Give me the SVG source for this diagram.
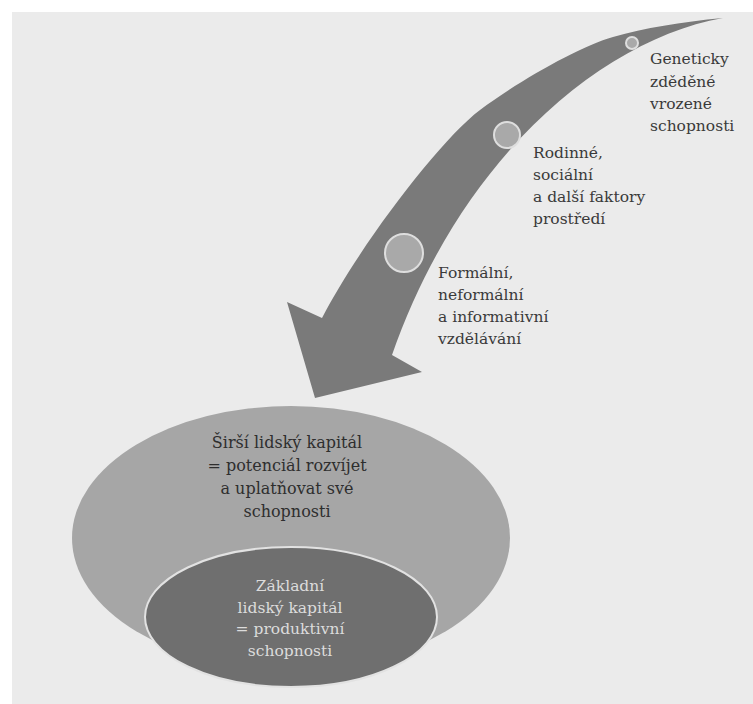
<svg xmlns="http://www.w3.org/2000/svg" width="753" height="704" viewBox="0 0 753 704">
<style>
text{font-family:'DejaVu Serif','Liberation Serif',serif}
.lbl{font-size:15.5px;fill:#3a3a3a}
.out{font-size:16px;fill:#2e2e2e;text-anchor:middle}
.in{font-size:15.5px;fill:#dcdcdc;text-anchor:middle}
.dot{fill:#a9a9a9;stroke:#dedede;stroke-width:2}
</style>
<rect width="753" height="704" fill="#ffffff"/>
<rect x="12" y="12" width="741" height="692" fill="#ebebeb"/>
<g id="connectors">
<path id="arrow" d="M723,18 C600,40 460,160 392,355 L422,372 L315,398 L287,302 L322,318 C360,245 440,140 480,110 C520,80 581,46 613,37 C645,28 680,22 723,18 Z" fill="#7a7a7a"/>
</g>
<g id="dot-genetic"><circle class="dot" cx="632" cy="43" r="6"/></g>
<g id="dot-family"><circle class="dot" cx="507" cy="135" r="13"/></g>
<g id="dot-education"><circle class="dot" cx="404" cy="253" r="19"/></g>
<g id="label-genetic">
<text class="lbl" x="650" y="64">Geneticky</text>
<text class="lbl" x="650" y="87">zděděné</text>
<text class="lbl" x="650" y="109">vrozené</text>
<text class="lbl" x="650" y="131">schopnosti</text>
</g>
<g id="label-family">
<text class="lbl" x="533" y="158">Rodinné,</text>
<text class="lbl" x="533" y="180">sociální</text>
<text class="lbl" x="533" y="202">a další faktory</text>
<text class="lbl" x="533" y="224">prostředí</text>
</g>
<g id="label-education">
<text class="lbl" x="438" y="278">Formální,</text>
<text class="lbl" x="438" y="300">neformální</text>
<text class="lbl" x="438" y="322">a informativní</text>
<text class="lbl" x="438" y="344">vzdělávání</text>
</g>
<g id="broad-capital">
<ellipse cx="291" cy="538" rx="219" ry="132" fill="#a6a6a6"/>
<text class="out" x="287" y="448">Širší lidský kapitál</text>
<text class="out" x="287" y="471">= potenciál rozvíjet</text>
<text class="out" x="287" y="494">a uplatňovat své</text>
<text class="out" x="287" y="517">schopnosti</text>
</g>
<g id="basic-capital">
<ellipse cx="291" cy="617" rx="146" ry="70" fill="#6f6f6f" stroke="#e2e2e2" stroke-width="2"/>
<text class="in" x="290" y="591">Základní</text>
<text class="in" x="290" y="613">lidský kapitál</text>
<text class="in" x="290" y="634">= produktivní</text>
<text class="in" x="290" y="656">schopnosti</text>
</g>
</svg>
